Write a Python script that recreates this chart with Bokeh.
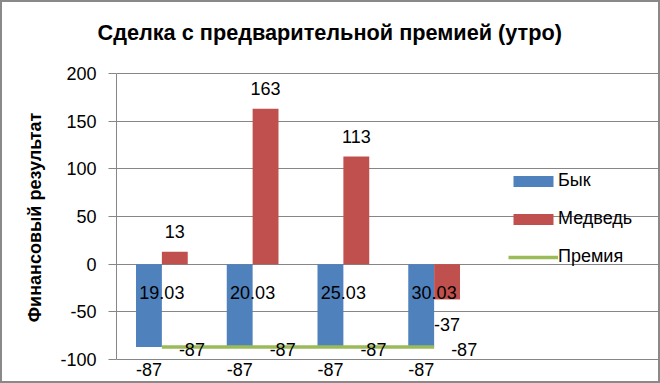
from bokeh.plotting import figure
from bokeh.models import (ColumnDataSource, Range1d, FixedTicker,
                          LabelSet, Legend, LegendItem)
from bokeh.core.properties import value
from bokeh.transform import dodge
from bokeh.embed import file_html
from bokeh.resources import INLINE

# ---- data ----
categories = ["19.03", "20.03", "25.03", "30.03"]
bull = [-87, -87, -87, -87]          # Бык
bear = [13, 163, 113, -37]           # Медведь
premium = [-87, -87, -87, -87]       # Премия
y_ticks = [-100, -50, 0, 50, 100, 150, 200]
y_tick_labels = ["-100", "-50", "0", "50", "100", "150", "200"]
series_names = ["Бык", "Медведь", "Премия"]
title_text = "Сделка с предварительной премией (утро)"
y_title = "Финансовый результат"

FONT = "Liberation Sans"
GRAY = "#868686"
BLUE = "#4F81BD"
RED = "#C0504D"
GREEN = "#9BBB59"
FS = "18px"
BW = 0.285          # bar width (category units)
DX = BW / 2         # bar offset from category centre

W, H = 660, 383
LEFT, TOP = 116, 51          # frame origin (px)
PLOT_W, PLOT_H = 363, 286    # size of the gridded plot area (px)
PAD_T, PAD_B = 22, 24        # frame space above/below the gridded area (px)

n = len(categories)
src = ColumnDataSource(dict(
    x=[i + 0.5 for i in range(n)],
    cat=categories,
    bull=bull,
    bear=bear,
    premium=premium,
    zero=[0] * n,
    bull_txt=[str(v) for v in bull],
    bear_txt=[str(v) for v in bear],
    prem_txt=[str(v) for v in premium],
    bear_off=[20 if v >= 0 else -25 for v in bear],
))

y_lo, y_hi = y_ticks[0], y_ticks[-1]
upp = (y_hi - y_lo) / PLOT_H          # data units per pixel
p = figure(x_range=Range1d(0, n * (W - LEFT) / PLOT_W),
           y_range=Range1d(y_lo - PAD_B * upp, y_hi + PAD_T * upp),
           width=W, height=H, output_backend="svg", toolbar_location=None,
           x_axis_location=None, title=title_text,
           min_border_left=LEFT, min_border_right=0,
           min_border_top=TOP, min_border_bottom=0)
p.background_fill_alpha = 0
p.border_fill_alpha = 0
p.outline_line_color = None
p.styles = {"box-shadow": "inset 0 0 0 2px #898989"}

t = p.title
t.text_font = FONT
t.text_font_style = "bold"
t.text_font_size = "21.7px"
t.text_color = "black"
t.align = "left"
t.vertical_align = "top"
t.offset = -19
t.standoff = 10

yax = p.yaxis[0]
yax.ticker = FixedTicker(ticks=y_ticks)
yax.bounds = (y_lo, y_hi)
yax.major_label_overrides = dict(zip(y_ticks, y_tick_labels))
yax.axis_label = y_title
yax.axis_label_text_font = FONT
yax.axis_label_text_font_style = "bold"
yax.axis_label_text_font_size = "18px"
yax.axis_label_text_color = "black"
yax.major_label_text_font = FONT
yax.major_label_text_font_size = FS
yax.major_label_text_color = "black"
yax.axis_line_color = GRAY
yax.major_tick_line_color = GRAY
yax.major_tick_out = 8
yax.major_tick_in = 0
yax.minor_tick_line_color = None
yax.major_label_standoff = 12
yax.axis_label_standoff = 12

p.ygrid.grid_line_color = GRAY
p.ygrid.bounds = (0, n)
p.xgrid.grid_line_color = None

r_bull = p.vbar(x=dodge("x", -DX), top="bull", bottom=0,
                width=BW, source=src, fill_color=BLUE, line_color=None)
r_bear = p.vbar(x=dodge("x", DX), top="bear", bottom=0,
                width=BW, source=src, fill_color=RED, line_color=None)
r_prem = p.line(x="x", y="premium", source=src, line_color=GREEN, line_width=3.5)

common = dict(source=src, text_font=value(FONT), text_font_size=value(FS),
              text_color="black", text_baseline="middle")
p.add_layout(LabelSet(x="x", y="zero", text="cat", text_align="center",
                      y_offset=-28, **common))
p.add_layout(LabelSet(x=dodge("x", -DX), y="bull", text="bull_txt",
                      text_align="center", y_offset=-22, **common))
p.add_layout(LabelSet(x=dodge("x", DX), y="bear", text="bear_txt",
                      text_align="center", y_offset="bear_off", **common))
p.add_layout(LabelSet(x="x", y="premium", text="prem_txt",
                      text_align="left", x_offset=17, y_offset=-2, **common))

legend = Legend(items=[LegendItem(label=series_names[0], renderers=[r_bull]),
                       LegendItem(label=series_names[1], renderers=[r_bear]),
                       LegendItem(label=series_names[2], renderers=[r_prem])],
                location=(392, 116), orientation="vertical",
                glyph_width=50, glyph_height=14, label_standoff=0, spacing=17,
                padding=0, margin=0, border_line_color=None,
                background_fill_alpha=0,
                label_text_font=FONT, label_text_font_size=FS, label_text_color="black")
p.add_layout(legend, "center")

open("out.html", "w").write(file_html(p, INLINE))
